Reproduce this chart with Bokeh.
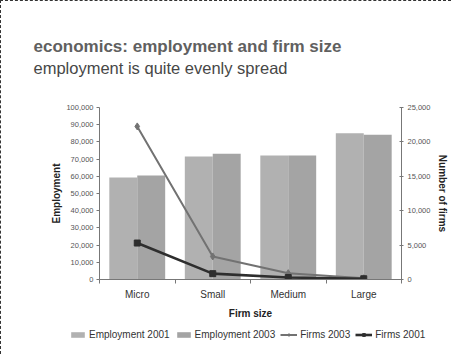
from bokeh.plotting import figure
from bokeh.layouts import column
from bokeh.models import (Range1d, LinearAxis, FixedTicker, SingleIntervalTicker,
                          NumeralTickFormatter, Legend, LegendItem, Title)
from bokeh.embed import file_html
from bokeh.resources import INLINE

# ---- data ----
categories = ["Micro", "Small", "Medium", "Large"]
employment_2001 = [59300, 71500, 72100, 85000]
employment_2003 = [60500, 73100, 72100, 84100]
firms_2003 = [22250, 3350, 920, 180]
firms_2001 = [5300, 850, 290, 110]

series_names = ["Employment 2001", "Employment 2003", "Firms 2003", "Firms 2001"]
title_text = "economics: employment and firm size"
subtitle_text = "employment is quite evenly spread"

FONT = "Liberation Sans"
C_E01, C_E03, C_F03, C_F01 = "#b1b1b1", "#a4a4a4", "#727272", "#2e2e2e"
W = 446

# ---- main chart ----
xpos = [i + 1 for i in range(len(categories))]
off = 0.185
bw = 0.37

p = figure(frame_width=302, frame_height=172, output_backend="svg", toolbar_location=None,
           x_range=Range1d(0.5, len(categories) + 0.5), y_range=Range1d(0, 100000),
           min_border_left=98, min_border_right=46, min_border_top=106, min_border_bottom=42)
p.extra_y_ranges = {"firms": Range1d(0, 25000)}
p.outline_line_color = None
p.xgrid.visible = False
p.ygrid.visible = False

p.vbar(x=[x - off for x in xpos], top=employment_2001, width=bw, fill_color=C_E01, line_color=None)
p.vbar(x=[x + off for x in xpos], top=employment_2003, width=bw, fill_color=C_E03, line_color=None)
p.line(xpos, firms_2003, y_range_name="firms", line_color=C_F03, line_width=2)
p.scatter(xpos, firms_2003, y_range_name="firms", marker="diamond", size=7,
          fill_color=C_F03, line_color=C_F03)
p.line(xpos, firms_2001, y_range_name="firms", line_color=C_F01, line_width=2.6)
p.scatter(xpos, firms_2001, y_range_name="firms", marker="square", size=6,
          fill_color=C_F01, line_color=C_F01)

xa = p.xaxis[0]
xa.ticker = FixedTicker(ticks=xpos, minor_ticks=[x - 0.5 for x in xpos] + [xpos[-1] + 0.5])
xa.major_label_overrides = {x: c for x, c in zip(xpos, categories)}
xa.major_tick_out = 0
xa.major_tick_in = 0
xa.minor_tick_out = 4
xa.minor_tick_in = 0
xa.minor_tick_line_color = "#777777"
xa.axis_line_color = "#777777"
xa.major_label_text_font = FONT
xa.major_label_text_font_size = "10px"
xa.major_label_text_color = "#333333"
xa.major_label_standoff = 5
xa.axis_label = "Firm size"
xa.axis_label_text_font = FONT
xa.axis_label_text_font_size = "10px"
xa.axis_label_text_font_style = "bold"
xa.axis_label_text_color = "#222222"
xa.axis_label_standoff = 5

ya = p.yaxis[0]
ya.ticker = SingleIntervalTicker(interval=10000)
ya.formatter = NumeralTickFormatter(format="0,0")
ya.major_label_text_font = FONT
ya.major_label_text_font_size = "7.5px"
ya.major_label_text_color = "#555555"
ya.major_tick_out = 3
ya.major_tick_in = 0
ya.minor_tick_line_color = None
ya.axis_line_color = "#777777"
ya.major_tick_line_color = "#777777"
ya.major_label_standoff = 2
ya.axis_label = "Employment"
ya.axis_label_text_font = FONT
ya.axis_label_text_font_size = "10px"
ya.axis_label_text_font_style = "bold"
ya.axis_label_text_color = "#222222"
ya.axis_label_standoff = 1

ra = LinearAxis(y_range_name="firms", ticker=SingleIntervalTicker(interval=5000),
                formatter=NumeralTickFormatter(format="0,0"))
ra.major_label_text_font = FONT
ra.major_label_text_font_size = "7.5px"
ra.major_label_text_color = "#555555"
ra.major_tick_out = 2
ra.major_tick_in = 2
ra.minor_tick_line_color = None
ra.axis_line_color = "#777777"
ra.major_tick_line_color = "#777777"
ra.major_label_standoff = 2
ra.axis_label = "Number of firms"
ra.axis_label_text_font = FONT
ra.axis_label_text_font_size = "10px"
ra.axis_label_text_font_style = "bold"
ra.axis_label_text_color = "#222222"
ra.axis_label_standoff = 4
p.add_layout(ra, "right")

sub = Title(text=subtitle_text, align="left", offset=-66, standoff=62,
            text_font=FONT, text_font_size="16.5px", text_font_style="normal",
            text_color="#474747")
p.add_layout(sub, "above")
ttl = Title(text=title_text, align="left", offset=-66, standoff=-60,
            text_font=FONT, text_font_size="17px", text_font_style="bold",
            text_color="#606060")
p.add_layout(ttl, "above")

# ---- legend strip: proxy glyphs styled like the series, kept outside the strip's range ----
pl = figure(width=W, height=33, output_backend="svg", toolbar_location=None,
            x_axis_type=None, y_axis_type=None, min_border=0,
            x_range=Range1d(0, 1), y_range=Range1d(0, 1))
pl.outline_line_color = None
pl.grid.visible = False
proxy_x, proxy_y = [5, 6], [5, 6]
g1 = pl.vbar(x=proxy_x, top=proxy_y, bottom=4, width=0.1, fill_color=C_E01, line_color=None)
g2 = pl.vbar(x=proxy_x, top=proxy_y, bottom=4, width=0.1, fill_color=C_E03, line_color=None)
g3l = pl.line(x=proxy_x, y=proxy_y, line_color=C_F03, line_width=2)
g3m = pl.scatter(x=proxy_x, y=proxy_y, marker="diamond", size=7, fill_color=C_F03, line_color=C_F03)
g4l = pl.line(x=proxy_x, y=proxy_y, line_color=C_F01, line_width=2.6)
g4m = pl.scatter(x=proxy_x, y=proxy_y, marker="square", size=6, fill_color=C_F01, line_color=C_F01)

legend = Legend(items=[
    LegendItem(label=series_names[0], renderers=[g1]),
    LegendItem(label=series_names[1], renderers=[g2]),
    LegendItem(label=series_names[2], renderers=[g3l, g3m]),
    LegendItem(label=series_names[3], renderers=[g4l, g4m]),
], orientation="horizontal", location=(68, 14))
legend.label_text_font = FONT
legend.label_text_font_size = "10px"
legend.label_text_color = "#333333"
legend.glyph_width = 17
legend.glyph_height = 7
legend.label_height = 12
legend.label_standoff = 3
legend.spacing = 5
legend.padding = 0
legend.margin = 0
legend.border_line_color = None
legend.background_fill_alpha = 0
pl.add_layout(legend, "center")

layout = column(p, column(pl), spacing=0,
                styles={"border-top": "1px dashed #333333", "border-left": "1px dashed #333333"})

open("out.html", "w").write(file_html(layout, INLINE))
